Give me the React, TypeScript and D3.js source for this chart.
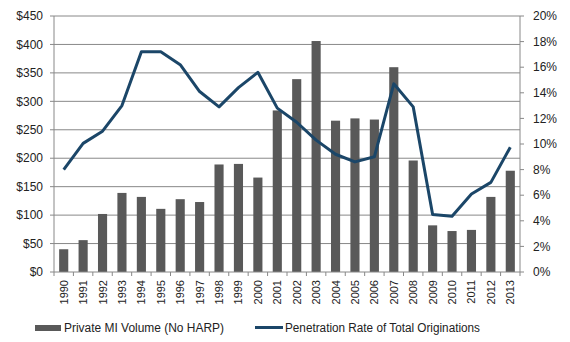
import React from "react";
import * as d3 from "d3";

const years = ["1990","1991","1992","1993","1994","1995","1996","1997","1998","1999","2000","2001","2002","2003","2004","2005","2006","2007","2008","2009","2010","2011","2012","2013"];
const volume = [40,56,102,139,132,111,128,123,189,190,166,284,339,406,266,270,268,360,196,82,72,74,132,178];
const penetration = [8.0,10.05,11.0,13.0,17.2,17.2,16.2,14.1,12.9,14.4,15.6,12.8,11.7,10.3,9.2,8.6,9.0,14.7,12.9,4.5,4.35,6.1,7.0,9.75];
const leftTicks = [0,50,100,150,200,250,300,350,400,450];
const rightTicks = [0,2,4,6,8,10,12,14,16,18,20];
const seriesNames = ["Private MI Volume (No HARP)", "Penetration Rate of Total Originations"];

const W = 570, H = 342;
const L = 54, R = 520, T = 16, B = 272;
const barColor = "#595959";
const lineColor = "#1b4668";
const gridColor = "#888888";
const font = "'Liberation Sans', Arial, sans-serif";

export default function App() {
  const x = d3.scaleBand<string>().domain(years).range([L, R]).paddingInner(0.53).paddingOuter(0.265);
  const yL = d3.scaleLinear().domain([0, 450]).range([B, T]);
  const yR = d3.scaleLinear().domain([0, 20]).range([B, T]);
  const line = d3.line<number>()
    .x((_, i) => (x(years[i]) as number) + x.bandwidth() / 2)
    .y(d => yR(d));
  const step = (R - L) / years.length;
  return (
    <svg width={W} height={H} style={{ position: "absolute", left: 0, top: 0, background: "#fff" }} fontFamily={font}>
      {leftTicks.map(t => (
        <g key={"g" + t}>
          {t > 0 && <line x1={L} x2={R} y1={yL(t)} y2={yL(t)} stroke={gridColor} strokeWidth={1} />}
          <line x1={L - 4} x2={L} y1={yL(t)} y2={yL(t)} stroke={gridColor} />
          <text x={43} y={yL(t)} dy="0.35em" textAnchor="end" fontSize={12} fill="#222">{"$" + t}</text>
        </g>
      ))}
      {rightTicks.map(t => (
        <g key={"r" + t}>
          <line x1={R} x2={R + 4} y1={yR(t)} y2={yR(t)} stroke={gridColor} />
          <text x={533} y={yR(t)} dy="0.35em" textAnchor="start" fontSize={12} fill="#222">{t + "%"}</text>
        </g>
      ))}
      <line x1={L} x2={L} y1={T} y2={B} stroke={gridColor} />
      <line x1={R} x2={R} y1={T} y2={B} stroke={gridColor} />
      {volume.map((v, i) => (
        <rect key={"b" + i} x={x(years[i])} y={yL(v)} width={x.bandwidth()} height={B - yL(v)} fill={barColor} />
      ))}
      <line x1={L} x2={R} y1={B} y2={B} stroke={gridColor} />
      {d3.range(years.length + 1).map(i => (
        <line key={"xt" + i} x1={L + i * step} x2={L + i * step} y1={B} y2={B + 4} stroke={gridColor} />
      ))}
      {years.map(y => {
        const cx = (x(y) as number) + x.bandwidth() / 2;
        return (
          <text key={"xl" + y} transform={`translate(${cx + 4},${280}) rotate(-90)`} textAnchor="end" fontSize={11} fill="#222">{y}</text>
        );
      })}
      <path d={line(penetration) || ""} fill="none" stroke={lineColor} strokeWidth={3} strokeLinejoin="round" />
      <rect x={35} y={325} width={26} height={6} fill={barColor} />
      <text x={64} y={328} dy="0.35em" fontSize={12} fill="#222" textLength={160} lengthAdjust="spacingAndGlyphs">{seriesNames[0]}</text>
      <line x1={255} x2={283} y1={327.5} y2={327.5} stroke={lineColor} strokeWidth={3} />
      <text x={285} y={328} dy="0.35em" fontSize={12} fill="#222" textLength={195} lengthAdjust="spacingAndGlyphs">{seriesNames[1]}</text>
    </svg>
  );
}
